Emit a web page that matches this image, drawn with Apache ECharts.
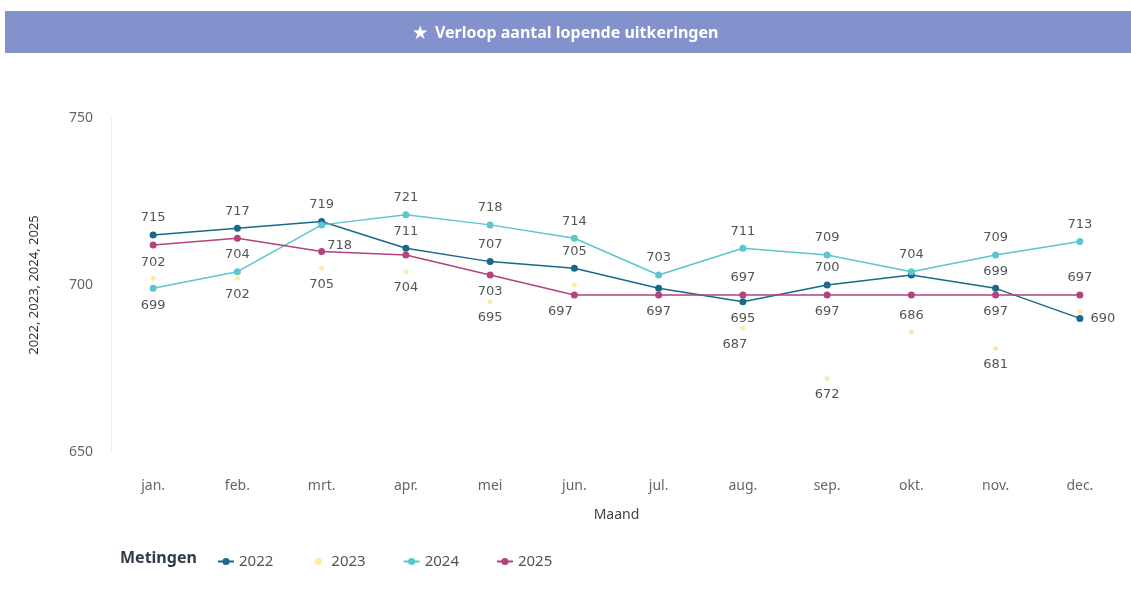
<!DOCTYPE html>
<html>
<head>
<meta charset="utf-8">
<script src="https://cdn.jsdelivr.net/npm/echarts@6/dist/echarts.min.js"></script>
<style>
  html, body { margin: 0; padding: 0; background: #fff; }
  #chart { width: 1131px; height: 600px; }
</style>
</head>
<body>
<div id="chart"></div>
<script>
const months = ['jan.', 'feb.', 'mrt.', 'apr.', 'mei', 'jun.', 'jul.', 'aug.', 'sep.', 'okt.', 'nov.', 'dec.']
const years = ['2022', '2023', '2024', '2025']

const values2022 = [715, 717, 719, 711, 707, 705, 699, 695, 700, 703, 699, 690]
const values2023 = [702, 702, 705, 704, 695, 700, 697, 687, 672, 686, 681, 692]
const values2024 = [699, 704, 718, 721, 718, 714, 703, 711, 709, 704, 709, 713]
const values2025 = [712, 714, 710, 709, 703, 697, 697, 697, 697, 697, 697, 697]

const yTicks = [650, 700, 750]

// label placement per point (null = hidden), like the original report
const labelPos = {
  '2022': ['top', 'top', 'top', 'top', 'top', 'top', null, 'bottom', 'top', null, 'top', 'right'],
  '2023': ['top', 'bottom', 'bottom', 'bottom', 'bottom', null, null, 'bottom', 'bottom', 'top', 'bottom', null],
  '2024': ['bottom', 'top', 'bottom', 'top', 'top', 'top', 'top', 'top', 'top', 'top', 'top', 'top'],
  '2025': [null, null, null, null, 'bottom', 'bottom', 'bottom', 'top', 'bottom', null, 'bottom', 'top']
}
const labelOffset = {
  '2024': { 2: [18, 4] },
  '2023': { 7: [-8, 0] },
  '2025': { 5: [-14, 0] }
}

const colors = {
  '2022': '#176a8a',
  '2023': '#fbeaa8',
  '2024': '#5cc5cf',
  '2025': '#b2437e'
}

const font = '"Noto Sans", "Open Sans", sans-serif'
const seriesValues = { '2022': values2022, '2023': values2023, '2024': values2024, '2025': values2025 }

const buildData = (year) => seriesValues[year].map((v, i) => {
  const pos = labelPos[year][i]
  const off = (labelOffset[year] || {})[i]
  return {
    value: v,
    label: pos ? { show: true, position: pos, offset: off || [0, 0] } : { show: false }
  }
})

const chart = echarts.init(document.getElementById('chart'))

const option = {
  animation: false,
  graphic: [
    {
      type: 'rect',
      shape: { x: 5, y: 11, width: 1126, height: 42 },
      style: { fill: '#8391cc' }
    },
    {
      type: 'text',
      left: 120,
      top: 550,
      style: { text: 'Metingen', fill: '#2f3b4a', font: 'bold 16px "Noto Sans", sans-serif' }
    }
  ],
  title: {
    text: '★  Verloop aantal lopende uitkeringen',
    left: 'center',
    top: 20,
    textStyle: { color: '#fff', fontSize: 16, fontWeight: 'bold', fontFamily: font }
  },
  legend: {
    data: years,
    left: 212,
    top: 549,
    itemWidth: 16,
    itemHeight: 9,
    itemGap: 37,
    textStyle: { color: '#555', fontSize: 15, fontFamily: font }
  },
  grid: { left: 111, right: 9, top: 118, bottom: 148 },
  xAxis: {
    type: 'category',
    data: months,
    name: 'Maand',
    nameLocation: 'middle',
    nameGap: 56,
    nameTextStyle: { color: '#444', fontSize: 14, fontFamily: font },
    axisLine: { show: false },
    axisTick: { show: false },
    axisLabel: { color: '#666', fontSize: 14, margin: 27, fontFamily: font }
  },
  yAxis: {
    type: 'value',
    min: yTicks[0],
    max: yTicks[yTicks.length - 1],
    interval: 50,
    name: years.join(', '),
    nameLocation: 'middle',
    nameGap: 70,
    nameTextStyle: { color: '#333', fontSize: 13, fontFamily: font },
    axisLine: { show: true, lineStyle: { color: '#eeeeee' } },
    axisTick: { show: false },
    splitLine: { show: false },
    axisLabel: { color: '#666', fontSize: 14, margin: 18, fontFamily: font }
  },
  series: years.map(year => ({
    name: year,
    type: 'line',
    data: buildData(year),
    symbol: 'circle',
    symbolSize: year === '2023' ? 5 : 7,
    z: year === '2023' ? 1 : 2,
    color: colors[year],
    lineStyle: { width: year === '2023' ? 0 : 1.5, color: colors[year] },
    itemStyle: { color: colors[year] },
    label: {
      color: '#555',
      fontSize: 13,
      fontFamily: '"DejaVu Sans", sans-serif',
      distance: 7
    },
    emphasis: { disabled: true }
  }))
}

chart.setOption(option)
</script>
</body>
</html>
